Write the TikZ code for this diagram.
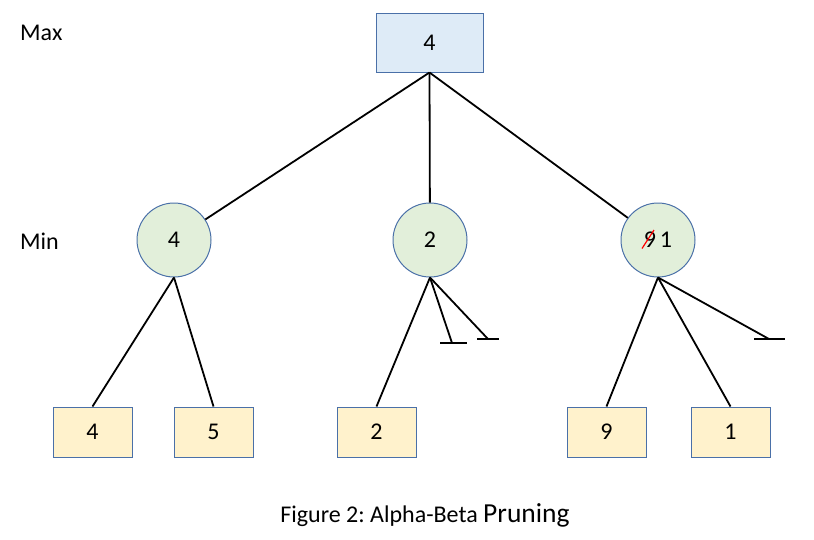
\documentclass[tikz,border=0pt]{standalone}
\usepackage{fontspec}
\setmainfont{Carlito}
\frenchspacing
\definecolor{rootfill}{HTML}{DEEBF7}
\definecolor{minfill}{HTML}{E2EFDA}
\definecolor{leaffill}{HTML}{FFF2CC}
\definecolor{bord}{HTML}{4A70A8}
\begin{document}
\begin{tikzpicture}[x=1pt,y=-1pt,
  rootbox/.style={draw=bord,line width=1pt,fill=rootfill,minimum width=107pt,minimum height=59pt,inner sep=0pt,font=\fontsize{24}{28}\selectfont},
  minnode/.style={draw=bord,line width=1pt,fill=minfill,circle,minimum size=74pt,inner sep=0pt,font=\fontsize{24}{28}\selectfont},
  leafbox/.style={draw=bord,line width=1pt,fill=leaffill,minimum width=79pt,minimum height=50pt,inner sep=0pt,font=\fontsize{24}{28}\selectfont},
  edge/.style={line width=1.8pt,black},
  lbl/.style={anchor=west,inner sep=0pt,font=\fontsize{24}{28}\selectfont}]
\useasboundingbox (0,0) rectangle (814,539);
\node[lbl] (max) at (20,33) {Max};
\node[lbl] (min) at (20,241) {Min};
\node[rootbox] (root) at (429.5,42.5) {4};
\node[minnode] (c1) at (174,240) {4};
\node[minnode] (c2) at (430,240) {2};
\node[minnode] (c3) at (658,240) {9\,1};
\node[leafbox] (l1) at (92.5,432) {4};
\node[leafbox] (l2) at (213.5,432) {5};
\node[leafbox] (l3) at (376.5,432) {2};
\node[leafbox] (l4) at (606.5,432) {9};
\node[leafbox] (l5) at (730.5,432) {1};
\draw[edge] (root.south) -- (c1);
\draw[edge] (root.south) -- (c2);
\draw[edge] (root.south) -- (c3);
\draw[edge] (c1.south) -- (l1.north);
\draw[edge] (c1.south) -- (l2.north);
\draw[edge] (c2.south) -- (l3.north);
\draw[edge] (c3.south) -- (l4.north);
\draw[edge] (c3.south) -- (l5.north);
\coordinate (p1) at (452,343);
\coordinate (p2) at (488,339);
\coordinate (p3) at (769,339);
\draw[edge] (c2.south) -- (p1);
\draw[edge] ([xshift=-12pt]p1) -- ([xshift=15pt]p1);
\draw[edge] (c2.south) -- (p2);
\draw[edge] ([xshift=-11pt]p2) -- ([xshift=11pt]p2);
\draw[edge] (c3.south) -- (p3);
\draw[edge] ([xshift=-15pt]p3) -- ([xshift=16pt]p3);
\coordinate (s1) at (642,248.5);
\coordinate (s2) at (654,230);
\draw[red,line width=1.2pt] (s1) -- (s2);
\node[inner sep=0pt,anchor=center] (cap) at (425,515) {\fontsize{24}{28}\selectfont Figure 2: Alpha-Beta \fontsize{27.5}{32}\selectfont Pruning};
\end{tikzpicture}
\end{document}
